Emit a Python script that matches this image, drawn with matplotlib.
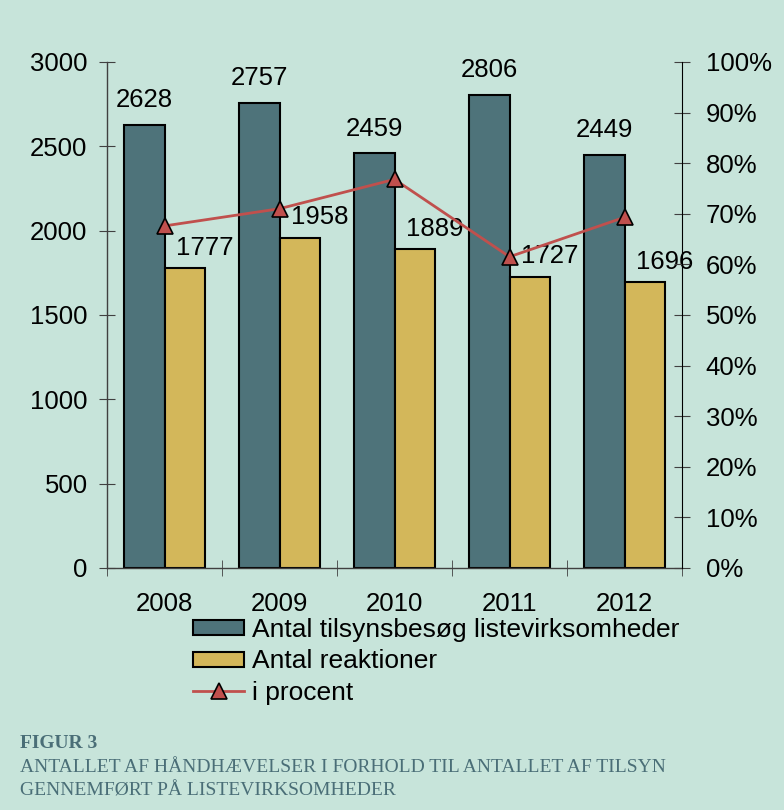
import matplotlib
matplotlib.use('Agg')
import matplotlib.pyplot as plt
from matplotlib.lines import Line2D
from matplotlib.patches import Patch
import numpy as np

# data
years = ['2008', '2009', '2010', '2011', '2012']
visits = [2628, 2757, 2459, 2806, 2449]
reactions = [1777, 1958, 1889, 1727, 1696]
percent = [67.6, 71.0, 76.8, 61.5, 69.3]

# colours
BG = '#c7e4da'
TEAL = '#4e737a'
GOLD = '#d3b75a'
RED = '#c0504d'
CAPTION = '#4a6e77'
FS = 18.5

plt.rcParams['font.family'] = ['Liberation Sans', 'DejaVu Sans']

fig = plt.figure(figsize=(7.84, 8.10), dpi=100, facecolor=BG)
ax = fig.add_axes([0.1365, 0.2988, 0.7334, 0.6247])
ax.set_facecolor(BG)

x = np.arange(len(years))
w = 0.35
ax.bar(x - w / 2, visits, w, color=TEAL, edgecolor='black', linewidth=1.5, zorder=2)
ax.bar(x + w / 2, reactions, w, color=GOLD, edgecolor='black', linewidth=1.5, zorder=2)

for i, v in enumerate(visits):
    ax.annotate(str(v), (x[i] - w / 2, v), xytext=(0, 9), textcoords='offset points',
                ha='center', va='bottom', fontsize=FS)
for i, v in enumerate(reactions):
    ax.annotate(str(v), (x[i] + 0.35, v), xytext=(0, 6), textcoords='offset points',
                ha='center', va='bottom', fontsize=FS)

ax.set_xlim(-0.5, len(years) - 0.5)
ax.set_ylim(0, 3000)
ax.set_yticks(range(0, 3001, 500))
ax.set_xticks(x)
ax.set_xticklabels(years)
ax.set_xticks(np.arange(-0.5, len(years), 1), minor=True)
ax.tick_params(axis='x', which='major', length=0, pad=17, labelsize=FS)
ax.tick_params(axis='x', which='minor', direction='inout', length=12, color='#404040')
ax.tick_params(axis='y', direction='inout', length=12, pad=8, labelsize=FS, color='#404040')

ax.spines['top'].set_visible(False)
ax.spines['right'].set_visible(False)
for s in ['left', 'bottom']:
    ax.spines[s].set_color('#404040')
    ax.spines[s].set_linewidth(1.0)

ax2 = ax.twinx()
ax2.plot(x, percent, color=RED, linewidth=2, marker='^', markersize=12,
         markerfacecolor=RED, markeredgecolor='black', markeredgewidth=1.2, zorder=3)
ax2.set_ylim(0, 100)
ax2.set_yticks(range(0, 101, 10))
ax2.set_yticklabels([f'{p}%' for p in range(0, 101, 10)])
ax2.tick_params(axis='y', direction='inout', length=12, pad=11, labelsize=FS, color='#404040')
for s in ['top', 'left', 'bottom']:
    ax2.spines[s].set_visible(False)
ax2.spines['right'].set_color('black')

handles = [
    Patch(facecolor=TEAL, edgecolor='black', linewidth=1.5),
    Patch(facecolor=GOLD, edgecolor='black', linewidth=1.5),
    Line2D([], [], color=RED, linewidth=2, marker='^', markersize=12,
           markerfacecolor=RED, markeredgecolor='black', markeredgewidth=1.2),
]
labels = ['Antal tilsynsbesøg listevirksomheder', 'Antal reaktioner', 'i procent']
fig.legend(handles, labels, loc='upper left', bbox_to_anchor=(193 / 784, 1 - 618 / 810),
           frameon=False, fontsize=19, handlelength=1.95, handleheight=0.5,
           handletextpad=0.3, labelspacing=0.28, borderaxespad=0, borderpad=0)

fig.text(20 / 784, 1 - 744 / 810, 'FIGUR 3', fontsize=14, fontweight='bold',
         color=CAPTION, family='Liberation Serif', va='center')
fig.text(20 / 784, 1 - 768 / 810, 'ANTALLET AF HÅNDHÆVELSER I FORHOLD TIL ANTALLET AF TILSYN',
         fontsize=14, color=CAPTION, family='Liberation Serif', va='center')
fig.text(20 / 784, 1 - 791 / 810, 'GENNEMFØRT PÅ LISTEVIRKSOMHEDER',
         fontsize=14, color=CAPTION, family='Liberation Serif', va='center')

fig.savefig('out.png', dpi=100, facecolor=BG)
